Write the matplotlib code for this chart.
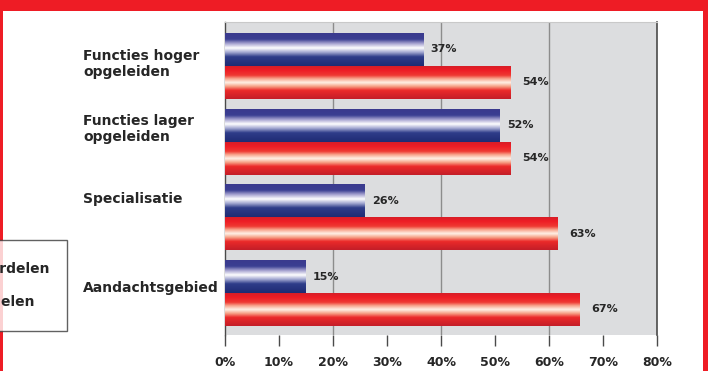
import matplotlib
matplotlib.use("Agg")
import matplotlib.pyplot as plt
from matplotlib.colors import LinearSegmentedColormap
from matplotlib.patches import Rectangle
from matplotlib.transforms import blended_transform_factory
import numpy as np

# data
categories = ["Functies hoger\nopgeleiden", "Functies lager\nopgeleiden",
              "Specialisatie", "Aandachtsgebied"]
voordelen = [36.8, 50.9, 25.9, 15.0]
nadelen = [52.8, 52.8, 61.5, 65.6]
voordelen_labels = ["37%", "52%", "26%", "15%"]
nadelen_labels = ["54%", "54%", "63%", "67%"]
series_names = ["Voordelen", "Nadelen"]
xticks = [0, 10, 20, 30, 40, 50, 60, 70, 80]

FRAME_RED = "#ee1c25"
TEXT = "#262626"

blue_cmap = LinearSegmentedColormap.from_list(
    "blue_bar",
    [(0.0, "#3a3a8e"), (0.18, "#3b3f92"), (0.32, "#a9a6d2"),
     (0.45, "#ffffff"), (0.58, "#a7acd4"), (0.72, "#2f3d8a"), (1.0, "#1f2c74")])
red_cmap = LinearSegmentedColormap.from_list(
    "red_bar",
    [(0.0, "#d81e27"), (0.12, "#ee1c25"), (0.28, "#ef3a33"), (0.38, "#f8a48c"),
     (0.5, "#fff3e8"), (0.62, "#f6a085"), (0.74, "#ec2a2a"), (1.0, "#c41e28")])

fig = plt.figure(figsize=(7.08, 3.71), dpi=100)
fig.patch.set_facecolor("white")

# red frame round the page
fig.patches.append(Rectangle((0, 1 - 11 / 371), 1, 11 / 371, transform=fig.transFigure,
                             facecolor=FRAME_RED, edgecolor="none", zorder=0))
fig.patches.append(Rectangle((0, 0), 2.5 / 708, 1, transform=fig.transFigure,
                             facecolor=FRAME_RED, edgecolor="none", zorder=0))
fig.patches.append(Rectangle((703 / 708, 0), 5 / 708, 1, transform=fig.transFigure,
                             facecolor=FRAME_RED, edgecolor="none", zorder=0))

ax = fig.add_axes([225 / 708, 1 - 335 / 371, 432 / 708, 313 / 371])
ax.set_facecolor("#dcdddf")

y = np.arange(len(categories))
h = 0.436
bars_v = ax.barh(y - h / 2, voordelen, height=h, color="#2f3a88", linewidth=0, zorder=2)
bars_n = ax.barh(y + h / 2, nadelen, height=h, color="#e41e26", linewidth=0, zorder=2)

# gradient fill, clipped to every bar
grad = np.linspace(0, 1, 64).reshape(-1, 1)
for bars, cmap in [(bars_v, blue_cmap), (bars_n, red_cmap)]:
    for b in bars:
        x0, y0, w, hh = b.get_x(), b.get_y(), b.get_width(), b.get_height()
        im = ax.imshow(grad, cmap=cmap, aspect="auto", interpolation="bilinear",
                       extent=(x0, x0 + w, y0 + hh, y0), origin="upper", zorder=3)
        im.set_clip_path(b)

ax.set_xlim(0, 80)
ax.set_ylim(3.555, -0.581)

# value labels
for b, lab in zip(bars_v, voordelen_labels):
    ax.annotate(lab, (b.get_width(), b.get_y() + b.get_height() / 2),
                xytext=(5, 0), textcoords="offset points", va="center",
                fontsize=8, fontweight="bold", color=TEXT, zorder=5)
for b, lab in zip(bars_n, nadelen_labels):
    ax.annotate(lab, (b.get_width(), b.get_y() + b.get_height() / 2),
                xytext=(9, 0), textcoords="offset points", va="center",
                fontsize=8, fontweight="bold", color=TEXT, zorder=5)

# grid and spines
for gx in [20, 40, 60]:
    ax.axvline(gx, color="#8c8c8c", linewidth=1.0, zorder=1)
ax.spines["left"].set_color("#4a4a4a")
ax.spines["right"].set_color("#4a4a4a")
ax.spines["left"].set_linewidth(1.0)
ax.spines["right"].set_linewidth(1.2)
ax.spines["top"].set_color("#c9c9c9")
ax.spines["bottom"].set_visible(False)

ax.set_xticks(xticks)
ax.set_xticklabels([f"{t}%" for t in xticks], fontsize=9, fontweight="bold", color=TEXT)
ax.tick_params(axis="x", direction="out", length=8, width=1.0, color="#4a4a4a", pad=7)
ax.set_yticks([])

# category labels, left aligned
label_shift = [-0.03, -0.17, -0.24, -0.07]
trans = blended_transform_factory(fig.transFigure, ax.transData)
for i, (cat, dy) in enumerate(zip(categories, label_shift)):
    ax.text(83 / 708, i + dy, cat, transform=trans, ha="left", va="center",
            fontsize=10, fontweight="bold", color=TEXT, linespacing=1.15,
            clip_on=False)

# legend, partly outside the page (as in the source image)
leg = fig.legend([bars_v[0], bars_n[0]], series_names, loc="upper right",
                 bbox_to_anchor=(67 / 708, 1 - 240 / 371),
                 bbox_transform=fig.transFigure,
                 prop={"size": 10, "weight": "bold"}, frameon=True, fancybox=False,
                 borderpad=1.2, labelspacing=0.65, handlelength=1.5,
                 handleheight=2.3, borderaxespad=0)
leg.get_frame().set_edgecolor("#3a3a3a")
leg.get_frame().set_linewidth(1.0)
for t in leg.get_texts():
    t.set_color(TEXT)

fig.savefig("out.png", dpi=100)
